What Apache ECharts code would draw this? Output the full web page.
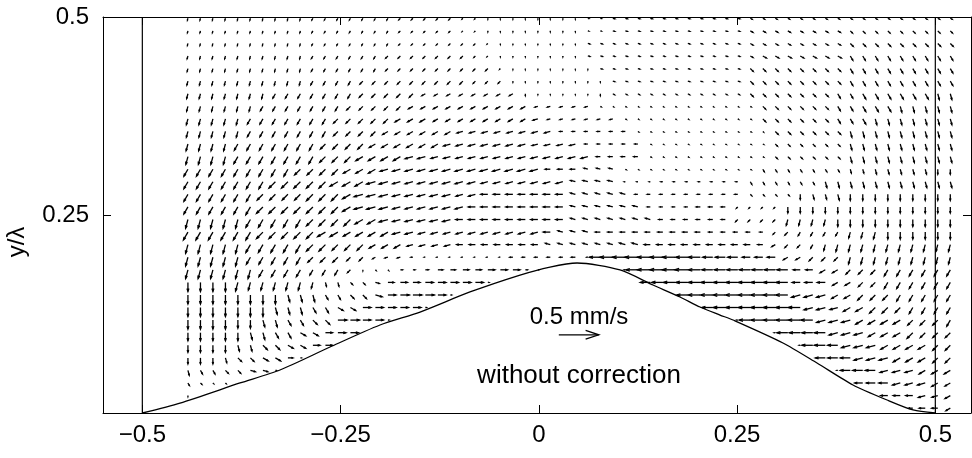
<!DOCTYPE html>
<html>
<head>
<meta charset="utf-8">
<script src="https://cdn.jsdelivr.net/npm/echarts@6/dist/echarts.min.js"></script>
<style>
  html, body { margin: 0; padding: 0; background: #fff; }
  #chart { width: 972px; height: 458px; }
</style>
</head>
<body>
<div id="chart"></div>
<script>
// grid of the velocity field (x/lambda, y/lambda)
var colX = [-0.4425, -0.4267, -0.4110, -0.3952, -0.3795, -0.3637, -0.3479, -0.3322, -0.3164, -0.3007,
            -0.2849, -0.2691, -0.2534, -0.2376, -0.2219, -0.2061, -0.1903, -0.1746, -0.1588, -0.1431,
            -0.1273, -0.1115, -0.0958, -0.0800, -0.0643, -0.0485, -0.0327, -0.0170, -0.0012, 0.0145,
            0.0303, 0.0461, 0.0618, 0.0776, 0.0933, 0.1091, 0.1249, 0.1406, 0.1564, 0.1721,
            0.1879, 0.2037, 0.2194, 0.2352, 0.2509, 0.2667, 0.2825, 0.2982, 0.3140, 0.3297,
            0.3455, 0.3613, 0.3770, 0.3928, 0.4085, 0.4243, 0.4401, 0.4558, 0.4716, 0.4873,
            0.5031, 0.5189];
var rowY = [0.4984, 0.4825, 0.4666, 0.4508, 0.4349, 0.4190, 0.4031, 0.3872, 0.3714, 0.3555,
            0.3396, 0.3237, 0.3078, 0.2920, 0.2761, 0.2602, 0.2443, 0.2284, 0.2126, 0.1967,
            0.1808, 0.1649, 0.1490, 0.1332, 0.1173, 0.1014, 0.0855, 0.0696, 0.0538, 0.0379,
            0.0220, 0.0061];

// direction per grid point: 'a' = 0 deg (to the right), each letter +15 deg counter-clockwise; '.' = no vector
var dirRows = [
  'rrrrrrrrrr qqqqqqqppp ppppssssss ssxxxxxxxx xxxxxwwwww wwwwwwwwww ww',
  'rrrrrrrrrr qqqqqqqppp ppppssssss ssxxxxxxxx xxxxxwwwww wwwvvvvvvv vv',
  'rrrrrrrrrr qqqqqqqppp pppppsssss ssxxxxxxxx xxxxxwwwww wwwvvvvvvv vv',
  'rrrrrrrrrr qqqqqqpppp pppppsssss ssxxxxxxxx xxxxxwwwww wwwuuuuuuu uu',
  'rrrrrrrrrr qqqqqqpppp ppppppssss sssxxxxxxx xxxxxvvvvv vvvuuuuuuu uu',
  'rrrrrrrrrr qqqqpppppp ppppppssss ssssxxxxxx xxxxxvvvvv vvvuuuuuuu uu',
  'rrrrrrrqqq qqqqpppppo ooooooosss sssswwwwww wwwwwvvvvv vvuuuuuuuu tt',
  'rrrrrrqqqq qqqpppppoo oooooooonn nnnwwwwwww wwwwwwvvvv vvuuuuuttt tt',
  'rrrrrqqqqq qqpppppooo oooooooonn nnnnnwwwww wwwwwwvvvv vvuuuttttt tt',
  'rrrrrqqqqq qqppppoooo oonnnnnnnn mmmmmmwwww wwwwwwvvvv vvvttttttt tt',
  'rrrrqqqqqq qppppooooo onnnnnnnnn nnmmmmmwww wwwwwwwvvv vvvttttttt tt',
  'rrrrqqqqqq qpppoooonn nnnnnnnnnn nnnmmmmwww wwwwwwwvvv vvvttttttt tt',
  'qqqqqqqqqp pppooonnnn nnnnnnnnnm mmlllwwwww wwwwwwuuuu uuuttttttt ss',
  'qqqqqqqppp ppooonnnnn nnnnnnnnnn nllllmmmmm mmmmmuuuuu uttttttttt tt',
  'qqqqqqpppp ppponnnnnn nnnnmmmmmm mlllllmmmm mmmmmvvvvs tttsssssss ss',
  'qqqqqqpppp ppponnnnnn nnnmmmmmmm mllllllmmm mmmmppppss ssssssssss ss',
  'rrrrrqqqqq ppppoonnnn nnmmmmmmmm mlllllllmm mmmmpppprr rrssssssss ss',
  'qqqqqqpppp poooooonnn nnnnnnnnnm lllmmmmmmm mmmmmmmppq qqqrrrssss ss',
  'rrrrrqqqqq pppppooonn nnmmmmmmml lllllllmmm mmmmmmmopp qrrrrrrrrr rr',
  'rrrrrqqqqq ppppponnmm mmmmmmmmmm mmmmmmmmmm mmmmmmmmoo ppprrrrrrr rr',
  'rrrrrrqqqq qqqpsvvaaa aaaaaaaaa. .....mmmmm mmmmmmmmmm moopppqqqq qq',
  'ssssrrrrrr rttvvxaaaa aaaaa..... .......mmm mmmmmmmmmm mmooppqqqq qq',
  'sssssssstt tuuvvxaaaa aa........ .......... mmmmmmmmmn nnoopppqqq qq',
  'sssssssttt uuwwaaaaaa .......... .......... ..mmmmmmmm nnnoopppqq qq',
  'ssssssttuu vvaaaaa... .......... .......... ....mmmmmm mnnnoooopp pq',
  'sssssttuuw waaa...... .......... .......... .......mmm mmnnnooopp pp',
  'ssssttvvww aa........ .......... .......... .........m mmmnnnoooo pp',
  'ssstvvwwaa .......... .......... .......... .......... .mmmnnnooo pp',
  'tuuvvxxa.. .......... .......... .......... .......... ..mmmmnnno oo',
  'uvvv...... .......... .......... .......... .......... ....mmmnnn oo',
  's......... .......... .......... .......... .......... ......mmmn no',
  '.......... .......... .......... .......... .......... ........mm mo'
];
// speed per grid point in steps of 0.0125 mm/s (hex digit)
var magRows = [
  '2222222222 2222222222 2211111111 1111222222 2222222222 2222222222 22',
  '2222222222 2222222222 2211111111 1111222222 2222233333 3333333333 33',
  '2222222222 2222222222 2222111111 1122222222 2222233333 3334444444 44',
  '3333333333 3333333333 3332111111 1122222222 2222234444 4445555555 55',
  '3333333333 3333333333 3333311111 1112222222 2222244444 4445555555 55',
  '4444444444 4444444444 4443331111 1111222222 2222244444 4445555555 55',
  '5555555555 5555555554 4444444211 1112222222 2222244444 4455666666 66',
  '5555555555 5555555555 5555555533 3331111111 1111114444 4455666666 66',
  '6666666666 6666666666 5555555553 3333311111 1111114444 4455666666 66',
  '6666666666 6666666666 6666666666 3333331111 1111111444 4446666666 66',
  '7777777777 7777777777 7777777766 6633333111 1111111333 3336666666 66',
  '8888888888 8888888888 7777777777 7774444111 1111111333 3336666666 66',
  '8888888888 8888888888 8888888885 5544411111 1111113333 3334455555 55',
  '8888888999 9999999888 8888777777 7555511122 2222233333 3666666666 66',
  '8888888888 9999999888 8877777777 7555553333 3333322225 5566666666 66',
  '8888899999 9999999888 8887777777 7555555333 3444222266 6666666666 66',
  '9999999999 9999999888 8877777777 7555555544 4444333366 6677777777 77',
  '9999999999 9998888887 7777777777 5555555555 5544443344 4446677777 77',
  '9999999999 9988877766 6666666665 5555566666 6666665444 4677777777 77',
  '9999988888 7775533321 1111113333 341BDDDDDD CCAAA88855 5557777777 77',
  '9999998888 6664111223 5566777210 000001CDDD DCBBBBBBB7 7666667777 77',
  '9999988888 6443346778 8888100000 0000000ABC CCCCCCCCC8 8866667777 77',
  '9999999977 7555578999 8100000000 0000000000 BCCCCCCCC9 9977777777 77',
  '9999999777 6666888881 0000000000 0000000000 00BCCCCCCC 9988888777 77',
  '9999887766 6699881000 0000000000 0000000000 00001BCCCC C999888877 77',
  '8888877666 6788000000 0000000000 0000000000 00000001BB BB99988887 77',
  '7777666666 7700000000 0000000000 0000000000 0000000001 BBA9998888 77',
  '6665556651 0000000000 0000000000 0000000000 0000000000 0AAA999888 77',
  '5444455100 0000000000 0000000000 0000000000 0000000000 001AAA8887 77',
  '3211000000 0000000000 0000000000 0000000000 0000000000 0000899888 76',
  '1000000000 0000000000 0000000000 0000000000 0000000000 0000007777 66',
  '0000000000 0000000000 0000000000 0000000000 0000000000 0000000046 65'
];
var SPEED_STEP = 0.0125;   // mm/s per digit

// wavy bottom
var surfX = [-0.5, -0.4525, -0.3768, -0.3264, -0.2633, -0.2003, -0.1498, -0.0868, -0.0237, 0.0141,
             0.0482, 0.1024, 0.1440, 0.1780, 0.2033, 0.2285, 0.2449, 0.3079, 0.3508, 0.3962,
             0.4391, 0.4719, 0.5];
var surfY = [0, 0.0126, 0.0379, 0.0543, 0.0833, 0.1111, 0.1275, 0.1528, 0.1742, 0.1843,
             0.1894, 0.1806, 0.1616, 0.1465, 0.1338, 0.1237, 0.1174, 0.0884, 0.0631, 0.0354,
             0.0164, 0.0038, 0];

var wallX = [-0.5, 0.5];
var xTicks = [-0.5, -0.25, 0, 0.25, 0.5];
var yTicks = [0.25, 0.5];

// reference vector
var refVec = [[0.0252, 0.0987, 0.5, 0]];

// length scale: 0.5 mm/s drawn as 0.0504 x/lambda
var UNITS_PER_MMS = 0.1009;
var FONT = '"Liberation Sans", Arial, Helvetica, sans-serif';

var fieldData = [];
for (var k = 0; k < rowY.length; k++) {
  var dirs = dirRows[k].replace(/ /g, '');
  var mags = magRows[k].replace(/ /g, '');
  for (var j = 0; j < colX.length; j++) {
    var dc = dirs.charAt(j);
    if (dc === '.' || dc === '') continue;
    var m = parseInt(mags.charAt(j), 16);
    if (!m) continue;
    var ang = (dc.charCodeAt(0) - 97) * 15 * Math.PI / 180;
    var s = m * SPEED_STEP;
    fieldData.push([colX[j], rowY[k], s * Math.cos(ang), s * Math.sin(ang)]);
  }
}

function arrowItem(params, api) {
  var x = api.value(0), y = api.value(1), u = api.value(2), v = api.value(3);
  var p0 = api.coord([x, y]);
  var p1 = api.coord([x + u * UNITS_PER_MMS, y + v * UNITS_PER_MMS]);
  var dx = p1[0] - p0[0], dy = p1[1] - p0[1];
  var a = 0.33, b = 0.33;
  var h1 = [p1[0] - a * (dx + b * dy), p1[1] - a * (dy - b * dx)];
  var h2 = [p1[0] - a * (dx - b * dy), p1[1] - a * (dy + b * dx)];
  var st = { stroke: '#000', lineWidth: 1.3, fill: null };
  return {
    type: 'group',
    children: [
      { type: 'polyline', shape: { points: [p0, p1] }, style: st },
      { type: 'polyline', shape: { points: [h1, p1, h2] }, style: st }
    ]
  };
}

function fmt(v) {
  if (Math.abs(v) < 1e-9) return '0';
  return v < 0 ? '\u2212' + String(-v) : String(v);
}

var chart = echarts.init(document.getElementById('chart'));

var option = {
  animation: false,
  backgroundColor: '#fff',
  grid: { left: 103, right: 1, top: 17, bottom: 45 },
  xAxis: [
    {
      type: 'value', min: -0.5496, max: 0.545, position: 'bottom',
      axisLine: { show: true, onZero: false, lineStyle: { color: '#000', width: 1 } },
      axisTick: { show: true, inside: true, length: 8, customValues: xTicks, lineStyle: { color: '#000' } },
      axisLabel: { customValues: xTicks, formatter: fmt, color: '#000', fontSize: 24, fontFamily: FONT, margin: 10 },
      splitLine: { show: false }
    },
    {
      type: 'value', min: -0.5496, max: 0.545, position: 'top',
      axisLine: { show: true, onZero: false, lineStyle: { color: '#000', width: 1 } },
      axisTick: { show: true, inside: true, length: 8, customValues: xTicks, lineStyle: { color: '#000' } },
      axisLabel: { show: false },
      splitLine: { show: false }
    }
  ],
  yAxis: [
    {
      type: 'value', min: 0, max: 0.5, position: 'left',
      axisLine: { show: true, onZero: false, lineStyle: { color: '#000', width: 1 } },
      axisTick: { show: true, inside: true, length: 8, customValues: [0.25], lineStyle: { color: '#000' } },
      axisLabel: { customValues: yTicks, formatter: fmt, color: '#000', fontSize: 24, fontFamily: FONT, margin: 14 },
      splitLine: { show: false }
    },
    {
      type: 'value', min: 0, max: 0.5, position: 'right',
      axisLine: { show: true, onZero: false, lineStyle: { color: '#000', width: 1 } },
      axisTick: { show: true, inside: true, length: 8, customValues: [0.25], lineStyle: { color: '#000' } },
      axisLabel: { show: false },
      splitLine: { show: false }
    }
  ],
  graphic: [
    { type: 'text', x: 579, y: 317,
      style: { text: '0.5 mm/s', font: '24px ' + FONT, fill: '#000', textAlign: 'center', textVerticalAlign: 'middle' } },
    { type: 'text', x: 579, y: 376,
      style: { text: 'without correction', font: '26px ' + FONT, fill: '#000', textAlign: 'center', textVerticalAlign: 'middle' } },
    { type: 'text', x: 17, y: 242, rotation: Math.PI / 2,
      style: { text: 'y/\u03bb', font: '24px ' + FONT, fill: '#000', textAlign: 'center', textVerticalAlign: 'middle' } }
  ],
  series: [
    {
      name: 'velocity', type: 'custom', renderItem: arrowItem, data: fieldData,
      encode: { x: 0, y: 1 }, silent: true
    },
    {
      name: 'scale', type: 'custom', renderItem: arrowItem, data: refVec,
      encode: { x: 0, y: 1 }, silent: true
    },
    {
      name: 'bottom', type: 'line', showSymbol: false, smooth: 0.25,
      data: surfX.map(function (x, i) { return [x, surfY[i]]; }),
      lineStyle: { color: '#000', width: 1.3 }
    },
    {
      name: 'wallL', type: 'line', showSymbol: false,
      data: [[wallX[0], 0], [wallX[0], 0.5]],
      lineStyle: { color: '#000', width: 1.2 }
    },
    {
      name: 'wallR', type: 'line', showSymbol: false,
      data: [[wallX[1], 0], [wallX[1], 0.5]],
      lineStyle: { color: '#000', width: 1.2 }
    }
  ]
};

chart.setOption(option);
</script>
</body>
</html>
